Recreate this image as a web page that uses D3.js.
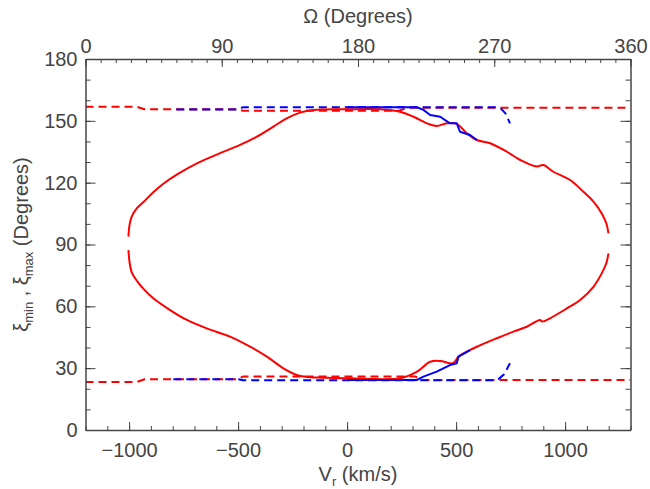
<!DOCTYPE html>
<html>
<head>
<meta charset="utf-8">
<script src="https://cdn.jsdelivr.net/npm/d3@7"></script>
<style>
  body { margin: 0; background: #fff; }
  text { font-family: "Liberation Sans", Arial, sans-serif; fill: #444; }
</style>
</head>
<body>
<div id="chart"></div>
<script>
// values

// tick labels
const vrTicks = [-1000, -500, 0, 500, 1000];
const omegaTicks = [0, 90, 180, 270, 360];
const xiTicks = [0, 30, 60, 90, 120, 150, 180];

// red solid loop, [Vr (km/s), xi (deg)]
const redUpper = [[-1003, 93.8], [-998, 99.5], [-988, 103.5], [-965, 107.5], [-934, 110.6], [-889, 115.4],
  [-843, 119.5], [-774, 124.4], [-689, 129.4], [-583, 134.3], [-491, 138.3], [-414, 142.3], [-338, 147.2],
  [-277, 151.2], [-216, 154], [-155, 155.3], [14, 155.6], [151, 155.6], [243, 154.4], [304, 152], [373, 148.5],
  [411, 147.5], [457, 148.8], [503, 148.5], [549, 144], [595, 140.7], [656, 139.1], [733, 135],
  [794, 131], [870, 127.8], [900, 128.6], [946, 125.3], [1023, 121.3], [1084, 115.6], [1130, 110.8],
  [1168, 105.1], [1189, 100.3], [1199, 95.4]];
const redLower = [[-1003, 87.3], [-998, 81.5], [-988, 76.5], [-965, 72.5], [-935, 68.6], [-889, 63.9],
  [-812, 58.2], [-735, 53.4], [-644, 49.3], [-537, 45.3], [-445, 40.4], [-368, 35.6], [-292, 29.9],
  [-231, 26.7], [-170, 25.6], [-110, 25.4], [14, 25.1], [243, 25.1], [321, 28.3], [381, 33.1], [427, 33.5],
  [486, 32.4], [511, 35.6], [549, 38], [595, 40.4], [687, 44.5], [763, 47.7], [824, 50.1],
  [885, 53.4], [895, 52.6], [931, 54.2], [1008, 59], [1069, 63.1], [1130, 69.5], [1168, 76],
  [1189, 80.9], [1199, 85.7]];

// blue solid pieces, [Vr, xi]
const blueUpper = [[0, 156.6], [320, 156.6], [350, 155.3], [381, 152.8], [427, 152], [472, 148.8],
  [503, 148.8], [518, 144.7], [564, 143.1], [595, 140.7]];
const blueLower = [[0, 24.3], [321, 24.3], [350, 25.9], [411, 28.3], [472, 31.5], [503, 32.4],
  [511, 35.6], [564, 38.8]];

// dashed curves against the top axis, [Omega (deg), xi (deg)]
const redDashTop = [[0, 156.8], [34, 156.8], [39, 155.6], [100, 155.6], [104, 154.9], [207, 154.9],
  [213, 156.4], [360, 156.4]];
const redDashBottom = [[0, 23.3], [34, 23.3], [39, 24.6], [100, 24.6], [104, 25.9], [218, 25.9],
  [222, 24.2], [360, 24.2]];
const blueDashTop = [[60, 155.5], [101, 155.5], [104, 156.6], [272, 156.6], [275, 155.6],
  [277.5, 153.5], [280.4, 148.8]];
const blueDashBottom = [[58, 24.6], [101, 24.6], [104, 24.1], [269, 24.1], [273, 24.8],
  [276.5, 27], [280.4, 32.4]];

const W = 650, H = 489;
const plot = { left: 85.5, right: 630.5, top: 59, bottom: 430 };

const x = d3.scaleLinear().domain([-1200, 1300]).range([plot.left, plot.right]);
const om = d3.scaleLinear().domain([0, 360]).range([plot.left, plot.right]);
const y = d3.scaleLinear().domain([0, 180]).range([plot.bottom, plot.top]);

const svg = d3.select("#chart").append("svg")
  .attr("width", W)
  .attr("height", H);

svg.append("clipPath").attr("id", "clip")
  .append("rect")
  .attr("x", plot.left).attr("y", plot.top)
  .attr("width", plot.right - plot.left).attr("height", plot.bottom - plot.top);

const lineVr = d3.line().x(d => x(d[0])).y(d => y(d[1]));
const smoothVr = d3.line().x(d => x(d[0])).y(d => y(d[1])).curve(d3.curveCatmullRom.alpha(0.5));
const lineOm = d3.line().x(d => om(d[0])).y(d => y(d[1]));

const marks = svg.append("g").attr("clip-path", "url(#clip)")
  .attr("fill", "none").attr("stroke-width", 2).attr("stroke-linejoin", "round");

marks.selectAll("path.rd")
  .data([redDashTop, redDashBottom])
  .join("path")
  .attr("class", "rd")
  .attr("stroke", "#ff0000")
  .attr("stroke-dasharray", "8,5")
  .attr("d", lineOm);

marks.selectAll("path.bd")
  .data([blueDashTop, blueDashBottom])
  .join("path")
  .attr("class", "bd")
  .attr("stroke", "#0000ff")
  .attr("stroke-dasharray", "8,5")
  .attr("d", lineOm);

marks.selectAll("path.rs")
  .data([redUpper, redLower])
  .join("path")
  .attr("class", "rs")
  .attr("stroke", "#ff0000")
  .attr("d", smoothVr);

marks.selectAll("path.bs")
  .data([blueUpper, blueLower])
  .join("path")
  .attr("class", "bs")
  .attr("stroke", "#0000ff")
  .attr("d", lineVr);

// axes, all ticks pointing inwards
const styleAxis = g => g
  .call(g => g.selectAll("line").attr("stroke", "#444"))
  .call(g => g.selectAll(".domain").attr("stroke", "#444").attr("stroke-width", 1.5))
  .call(g => g.selectAll("text").attr("font-size", 20).attr("fill", "#444")
    .style("font-family", '"Liberation Sans", Arial, sans-serif'));

const minor = (axis, vals, size) => axis.tickValues(vals).tickSizeInner(size).tickSizeOuter(0).tickFormat("");

// bottom
svg.append("g").attr("transform", `translate(0,${plot.bottom})`)
  .call(minor(d3.axisBottom(x), d3.range(-1200, 1301, 100), -4))
  .call(g => g.select(".domain").remove())
  .call(styleAxis);
svg.append("g").attr("transform", `translate(0,${plot.bottom})`)
  .call(d3.axisBottom(x).tickValues(vrTicks).tickSizeInner(-8).tickSizeOuter(0).tickPadding(13)
    .tickFormat(d => d < 0 ? "\u2212" + Math.abs(d) : d))
  .call(styleAxis);

// top
svg.append("g").attr("transform", `translate(0,${plot.top})`)
  .call(minor(d3.axisTop(om), d3.range(0, 361, 10), -4))
  .call(g => g.select(".domain").remove())
  .call(styleAxis);
svg.append("g").attr("transform", `translate(0,${plot.top})`)
  .call(d3.axisTop(om).tickValues(omegaTicks).tickSizeInner(-8).tickSizeOuter(0).tickPadding(6))
  .call(styleAxis);

// left
svg.append("g").attr("transform", `translate(${plot.left},0)`)
  .call(minor(d3.axisLeft(y), d3.range(0, 181, 10), -5))
  .call(g => g.select(".domain").remove())
  .call(styleAxis);
svg.append("g").attr("transform", `translate(${plot.left},0)`)
  .call(d3.axisLeft(y).tickValues(xiTicks).tickSizeInner(-10).tickSizeOuter(0).tickPadding(8))
  .call(styleAxis);

// right
svg.append("g").attr("transform", `translate(${plot.right},0)`)
  .call(minor(d3.axisRight(y), d3.range(0, 181, 10), -5))
  .call(g => g.select(".domain").remove())
  .call(styleAxis);
svg.append("g").attr("transform", `translate(${plot.right},0)`)
  .call(d3.axisRight(y).tickValues(xiTicks).tickSizeInner(-10).tickSizeOuter(0).tickFormat(""))
  .call(styleAxis);

// titles
const cx = (plot.left + plot.right) / 2;
svg.append("text")
  .attr("x", cx).attr("y", 23)
  .attr("text-anchor", "middle").attr("font-size", 20)
  .text("\u03A9 (Degrees)");

const xt = svg.append("text")
  .attr("x", cx).attr("y", 481)
  .attr("text-anchor", "middle").attr("font-size", 20);
xt.append("tspan").text("V");
xt.append("tspan").attr("font-size", 13).attr("dy", 5).text("r");
xt.append("tspan").attr("dy", -5).text(" (km/s)");

const yt = svg.append("text")
  .attr("transform", `translate(28,${(plot.top + plot.bottom) / 2}) rotate(-90)`)
  .attr("text-anchor", "middle").attr("font-size", 20);
yt.append("tspan").text("\u03BE");
yt.append("tspan").attr("font-size", 13).attr("dy", 5).text("min");
yt.append("tspan").attr("dy", -5).text(" ,  \u03BE");
yt.append("tspan").attr("font-size", 13).attr("dy", 5).text("max");
yt.append("tspan").attr("dy", -5).text(" (Degrees)");
</script>
</body>
</html>
